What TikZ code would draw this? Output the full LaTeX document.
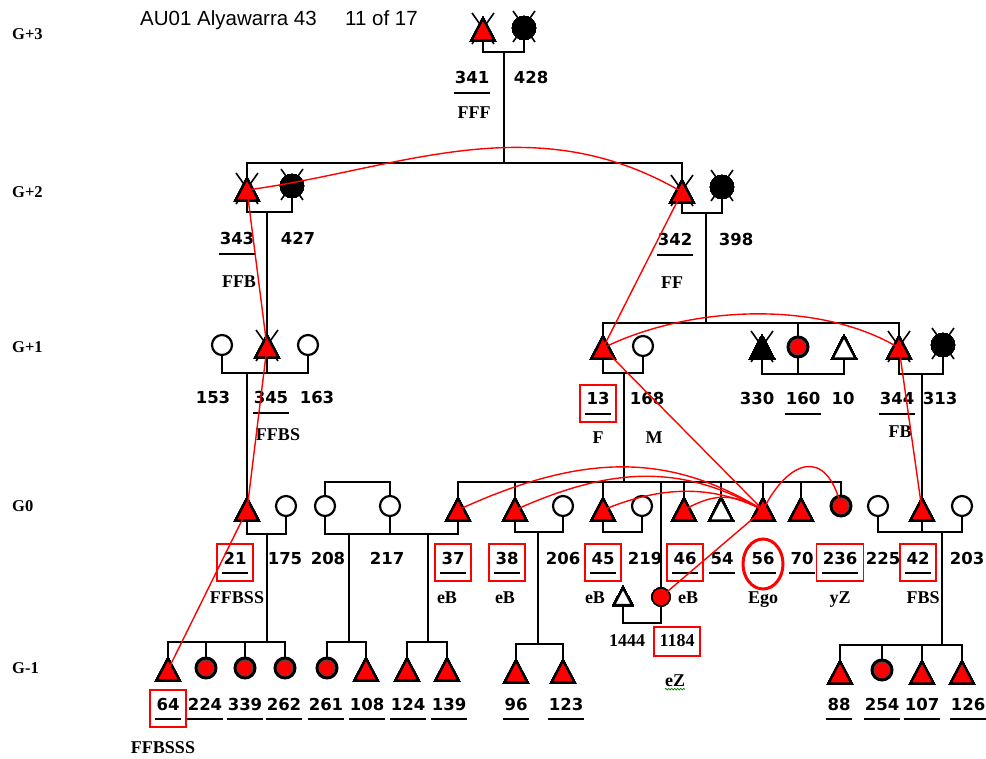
\documentclass[tikz,border=0pt]{standalone}
\usepackage{fontspec}
\setmainfont{Liberation Serif}
\newfontfamily\numfont{DejaVu Sans}
\newfontfamily\titlefont{Liberation Sans}
\usetikzlibrary{decorations.pathmorphing}
\newcommand\Tri[2]{\filldraw[sym,fill=#2,shift={(#1)}] (-11.5,10.5) -- (11.5,10.5) -- (0,-11.5) -- cycle;}
\newcommand\Cir[2]{\filldraw[sym,fill=#2] (#1) circle[radius=10];}
\newcommand\Dbl[1]{\filldraw[fill=red,draw=black,line width=3pt] (#1) circle[radius=10];\draw[gray!60!black,line width=0.8pt] (#1) circle[radius=7.9];}
\newcommand\Xs[1]{\draw[xs,shift={(#1)}] (-11,-17) -- (11,14) (11,-17) -- (-11,14);}
\newcommand\Num[4]{\node[num] (#1) at (#2,#3) {#4};}
\newcommand\UNum[4]{\node[num] (#1) at (#2,#3) {#4};\draw[ul] ([shift={(-1pt,-15pt)}]#1.west) -- ([shift={(1pt,-15pt)}]#1.east);}
\newcommand\BNum[4]{\UNum{#1}{#2}{#3}{#4}\draw[box] ([shift={(-6pt,14pt)}]#1.west) rectangle ([shift={(6pt,-23pt)}]#1.east);}
\newcommand\Term[4]{\node[term] (#1) at (#2,#3) {#4};}
\begin{document}
\begin{tikzpicture}[x=1pt,y=-1pt,
  ped/.style={line width=2.3pt,black},
  sym/.style={line width=2.2pt,draw=black},
  xs/.style={line width=1.6pt,black},
  kin/.style={red,line width=1.4pt},
  box/.style={draw=red,line width=1.8pt},
  ul/.style={line width=2.2pt,black},
  num/.style={font=\numfont\bfseries\fontsize{16.5}{20}\selectfont,inner sep=0pt,text height=12pt,text depth=0pt},
  term/.style={font=\bfseries\fontsize{18}{20}\selectfont,inner sep=0pt,text height=12pt,text depth=0pt},
  gen/.style={font=\bfseries\fontsize{16.5}{20}\selectfont,inner sep=0pt,anchor=west,text height=11.5pt,text depth=0pt},
  ttl/.style={font=\titlefont\fontsize{20.5}{22}\selectfont,inner sep=0pt,anchor=west,text height=14pt,text depth=0pt},
  squig/.style={green!50!black,line width=0.7pt,decorate,decoration={snake,amplitude=0.8pt,segment length=3pt}}]
\useasboundingbox (0,0) rectangle (986,759);
% ---------- coordinates of persons
\coordinate (t341) at (483,30); \coordinate (c428) at (524,28);
\coordinate (t343) at (247,190); \coordinate (c427) at (292,186);
\coordinate (t342) at (682,192); \coordinate (c398) at (722,187);
\coordinate (c153) at (222,345); \coordinate (t345) at (267,347); \coordinate (c163) at (308,345);
\coordinate (t13) at (603,348); \coordinate (c168) at (643,346);
\coordinate (t330) at (762,348); \coordinate (c160) at (798,347); \coordinate (t10) at (844,348);
\coordinate (t344) at (899,348); \coordinate (c313) at (943,345);
\coordinate (t21) at (247,510); \coordinate (c175) at (286,506);
\coordinate (c208) at (325,506); \coordinate (c217) at (390,506);
\coordinate (t37) at (458,510); \coordinate (t38) at (515,510); \coordinate (c206) at (563,506);
\coordinate (t45) at (603,510); \coordinate (c219) at (642,506);
\coordinate (t46) at (684,510); \coordinate (t54) at (721,510); \coordinate (t56) at (763,510);
\coordinate (t70) at (801,510); \coordinate (c236) at (841,506);
\coordinate (c225) at (878,506); \coordinate (t42) at (922,510); \coordinate (c203) at (962,506);
\coordinate (t1444) at (623,597); \coordinate (c1184) at (661,597);
\coordinate (t64) at (168,670); \coordinate (c224) at (206,668); \coordinate (c339) at (245,668); \coordinate (c262) at (285,668);
\coordinate (c261) at (327,668); \coordinate (t108) at (366,670);
\coordinate (t124) at (407,670); \coordinate (t139) at (447,670);
\coordinate (t96) at (516,672); \coordinate (t123) at (563,672);
\coordinate (t88) at (840,673); \coordinate (c254) at (882,670); \coordinate (t107) at (922,673); \coordinate (t126) at (962,673);
% ---------- junctions
\coordinate (j3) at (504,52); \coordinate (s2) at (504,163);
\coordinate (j343) at (267,212); \coordinate (j342) at (706,213); \coordinate (s1r) at (706,323);
\coordinate (j345) at (247,373); \coordinate (jF) at (624,373); \coordinate (s0) at (624,482);
\coordinate (j160) at (798,374); \coordinate (jFB) at (922,374);
\coordinate (j21) at (267,534); \coordinate (s64) at (267,642);
\coordinate (s208) at (357,482); \coordinate (j37) at (390,534);
\coordinate (j37a) at (349,534); \coordinate (s261) at (349,642);
\coordinate (j37b) at (428,534); \coordinate (s124) at (428,642);
\coordinate (j38) at (538,532); \coordinate (s96) at (538,644);
\coordinate (j45) at (622,532); \coordinate (j1184) at (642,623);
\coordinate (j42) at (922,532); \coordinate (j42b) at (942,532); \coordinate (s88) at (942,645);
% ---------- pedigree lines
\draw[ped] (t341) |- (j3) -| (c428);
\draw[ped] (j3) -- (s2);
\draw[ped] (t343) |- (s2) -| (t342);
\draw[ped] (t343) |- (j343) -| (c427);
\draw[ped] (j343) -- (t345);
\draw[ped] (t342) |- (j342) -| (c398);
\draw[ped] (j342) -- (s1r);
\draw[ped] (t13) |- (s1r) -| (t344);
\draw[ped] (c160) -- (c160|-s1r);
\draw[ped] (c153) |- (j345) -| (c163);
\draw[ped] (t345) -- (t345|-j345);
\draw[ped] (j345) -- (t21);
\draw[ped] (t13) |- (jF) -| (c168);
\draw[ped] (jF) -- (s0);
\draw[ped] (t330) |- (j160) -| (t10);
\draw[ped] (c160) -- (j160);
\draw[ped] (t344) |- (jFB) -| (c313);
\draw[ped] (jFB) -- (t42);
\draw[ped] (t37) |- (s0) -| (c236);
\foreach \n in {t38,t45,t46,t54,t56,t70,c1184} \draw[ped] (\n) -- (\n|-s0);
\draw[ped] (t21) |- (j21) -| (c175);
\draw[ped] (j21) -- (s64);
\draw[ped] (c208) |- (s208) -| (c217);
\draw[ped] (c208) |- (j37) -| (t37);
\draw[ped] (c217) -- (j37);
\draw[ped] (j37a) -- (s261);
\draw[ped] (j37b) -- (s124);
\draw[ped] (t38) |- (j38) -| (c206);
\draw[ped] (j38) -- (s96);
\draw[ped] (t45) |- (j45) -| (c219);
\draw[ped] (t1444) |- (j1184) -| (c1184);
\draw[ped] (c225) |- (j42) -| (c203);
\draw[ped] (t42) -- (j42);
\draw[ped] (j42b) -- (s88);
\draw[ped] (t64) |- (s64) -| (c262);
\foreach \n in {c224,c339} \draw[ped] (\n) -- (\n|-s64);
\draw[ped] (c261) |- (s261) -| (t108);
\draw[ped] (t124) |- (s124) -| (t139);
\draw[ped] (t96) |- (s96) -| (t123);
\draw[ped] (t88) |- (s88) -| (t126);
\foreach \n in {c254,t107} \draw[ped] (\n) -- (\n|-s88);
% ---------- symbols
\foreach \n in {t341,t343,t342,t345,t344,t330,c428,c427,c398,c313} \Xs{\n}
\foreach \n in {t341,t343,t342,t345,t344,t13,t21,t37,t38,t45,t46,t56,t70,t42,t64,t108,t124,t139,t96,t123,t88,t107,t126} \Tri{\n}{red}
\Tri{t330}{black}
\foreach \n in {t10,t54} \Tri{\n}{white}
\filldraw[sym,fill=white,shift={(t1444)}] (-9,8) -- (9,8) -- (0,-9) -- cycle;
\foreach \n in {c153,c163,c168,c175,c208,c217,c206,c219,c225,c203} \Cir{\n}{white}
\foreach \n in {c428,c427,c398,c313} \filldraw[sym,fill=black] (\n) circle[radius=11];
\foreach \n in {c160,c236,c224,c339,c262,c261,c254} \Dbl{\n}
\filldraw[fill=red,draw=black,line width=1.4pt] (c1184) circle[radius=9];
% ---------- texts
\node[ttl] (title) at (140,19) {AU01 Alyawarra 43};
\node[ttl] (page) at (345,19) {11 of 17};
\node[gen] (g3) at (12,34) {G+3};
\node[gen] (g2) at (12,192) {G+2};
\node[gen] (g1) at (12,347) {G+1};
\node[gen] (g0) at (12,506) {G0};
\node[gen] (gm1) at (12,668) {G-1};
\UNum{n341}{472}{78}{341} \Num{n428}{531}{78}{428} \Term{kFFF}{474}{113}{FFF}
\UNum{n343}{237}{239}{343} \Num{n427}{298}{239}{427} \Term{kFFB}{239}{282}{FFB}
\UNum{n342}{675}{240}{342} \Num{n398}{736}{240}{398} \Term{kFF}{672}{283}{FF}
\Num{n153}{213}{398}{153} \UNum{n345}{271}{398}{345} \Num{n163}{317}{398}{163} \Term{kFFBS}{278}{435}{FFBS}
\BNum{n13}{598}{399}{13} \Num{n168}{647}{399}{168} \Term{kF}{598}{437}{F} \Term{kM}{654}{437}{M}
\Num{n330}{757}{399}{330} \UNum{n160}{803}{399}{160} \Num{n10}{843}{399}{10}
\UNum{n344}{897}{399}{344} \Num{n313}{940}{399}{313} \Term{kFB}{900}{432}{FB}
\BNum{n21}{235}{558}{21} \Num{n175}{285}{558}{175} \Num{n208}{328}{558}{208} \Num{n217}{387}{558}{217}
\BNum{n37}{453}{558}{37} \BNum{n38}{507}{558}{38} \Num{n206}{563}{558}{206}
\BNum{n45}{603}{558}{45} \Num{n219}{645}{558}{219} \BNum{n46}{685}{558}{46}
\UNum{n54}{722}{558}{54} \UNum{n56}{763}{558}{56} \UNum{n70}{802}{558}{70}
\BNum{n236}{840}{558}{236} \Num{n225}{883}{558}{225} \BNum{n42}{918}{558}{42} \Num{n203}{967}{558}{203}
\draw[red,line width=3pt] (763,564) ellipse[x radius=20,y radius=25];
\Term{kFFBSS}{237}{597}{FFBSS} \Term{keB1}{447}{597}{eB} \Term{keB2}{505}{597}{eB}
\Term{keB3}{595}{597}{eB} \Term{keB4}{688}{597}{eB} \Term{kEgo}{763}{597}{Ego}
\Term{kyZ}{840}{597}{yZ} \Term{kFBS}{923}{597}{FBS}
\Term{n1444}{627}{640}{1444} \Term{n1184}{677}{640}{1184}
\draw[box] (654,627) rectangle (700,656);
\Term{keZ}{675}{680}{eZ}
\draw[squig] ([yshift=-3pt]keZ.south west) -- ([yshift=-3pt]keZ.south east);
\BNum{n64}{168}{704}{64} \UNum{n224}{205}{704}{224} \UNum{n339}{245}{704}{339} \UNum{n262}{284}{704}{262}
\UNum{n261}{326}{704}{261} \UNum{n108}{367}{704}{108} \UNum{n124}{408}{704}{124} \UNum{n139}{449}{704}{139}
\UNum{n96}{516}{704}{96} \UNum{n123}{566}{704}{123}
\UNum{n88}{839}{704}{88} \UNum{n254}{882}{704}{254} \UNum{n107}{922}{704}{107} \UNum{n126}{968}{704}{126}
\Term{kFFBSSS}{163}{747}{FFBSSS}
% ---------- kin path (red)
\draw[kin] (t343) .. controls +(150,-20) and +(-150,-88) .. (t342);
\draw[kin] (t343) -- (t345);
\draw[kin] (t345) -- (t21);
\draw[kin] (t21) -- (t64);
\draw[kin] (t342) -- (t13);
\draw[kin] (t13) .. controls +(87,-43) and +(-79,-48) .. (t344);
\draw[kin] (t13) -- (t56);
\draw[kin] (t344) -- (t42);
\draw[kin] (t56) .. controls +(-90,-55) and +(130,-60) .. (t37);
\draw[kin] (t56) .. controls +(-80,-45) and +(100,-45) .. (t38);
\draw[kin] (t56) .. controls +(-50,-25) and +(60,-25) .. (t45);
\draw[kin] (t56) .. controls +(-30,-17) and +(30,-17) .. (t46);
\draw[kin] (t56) .. controls +(25,-50) and +(-15,-60) .. (c236);
\draw[kin] (t56) -- (c1184);
\end{tikzpicture}
\end{document}
